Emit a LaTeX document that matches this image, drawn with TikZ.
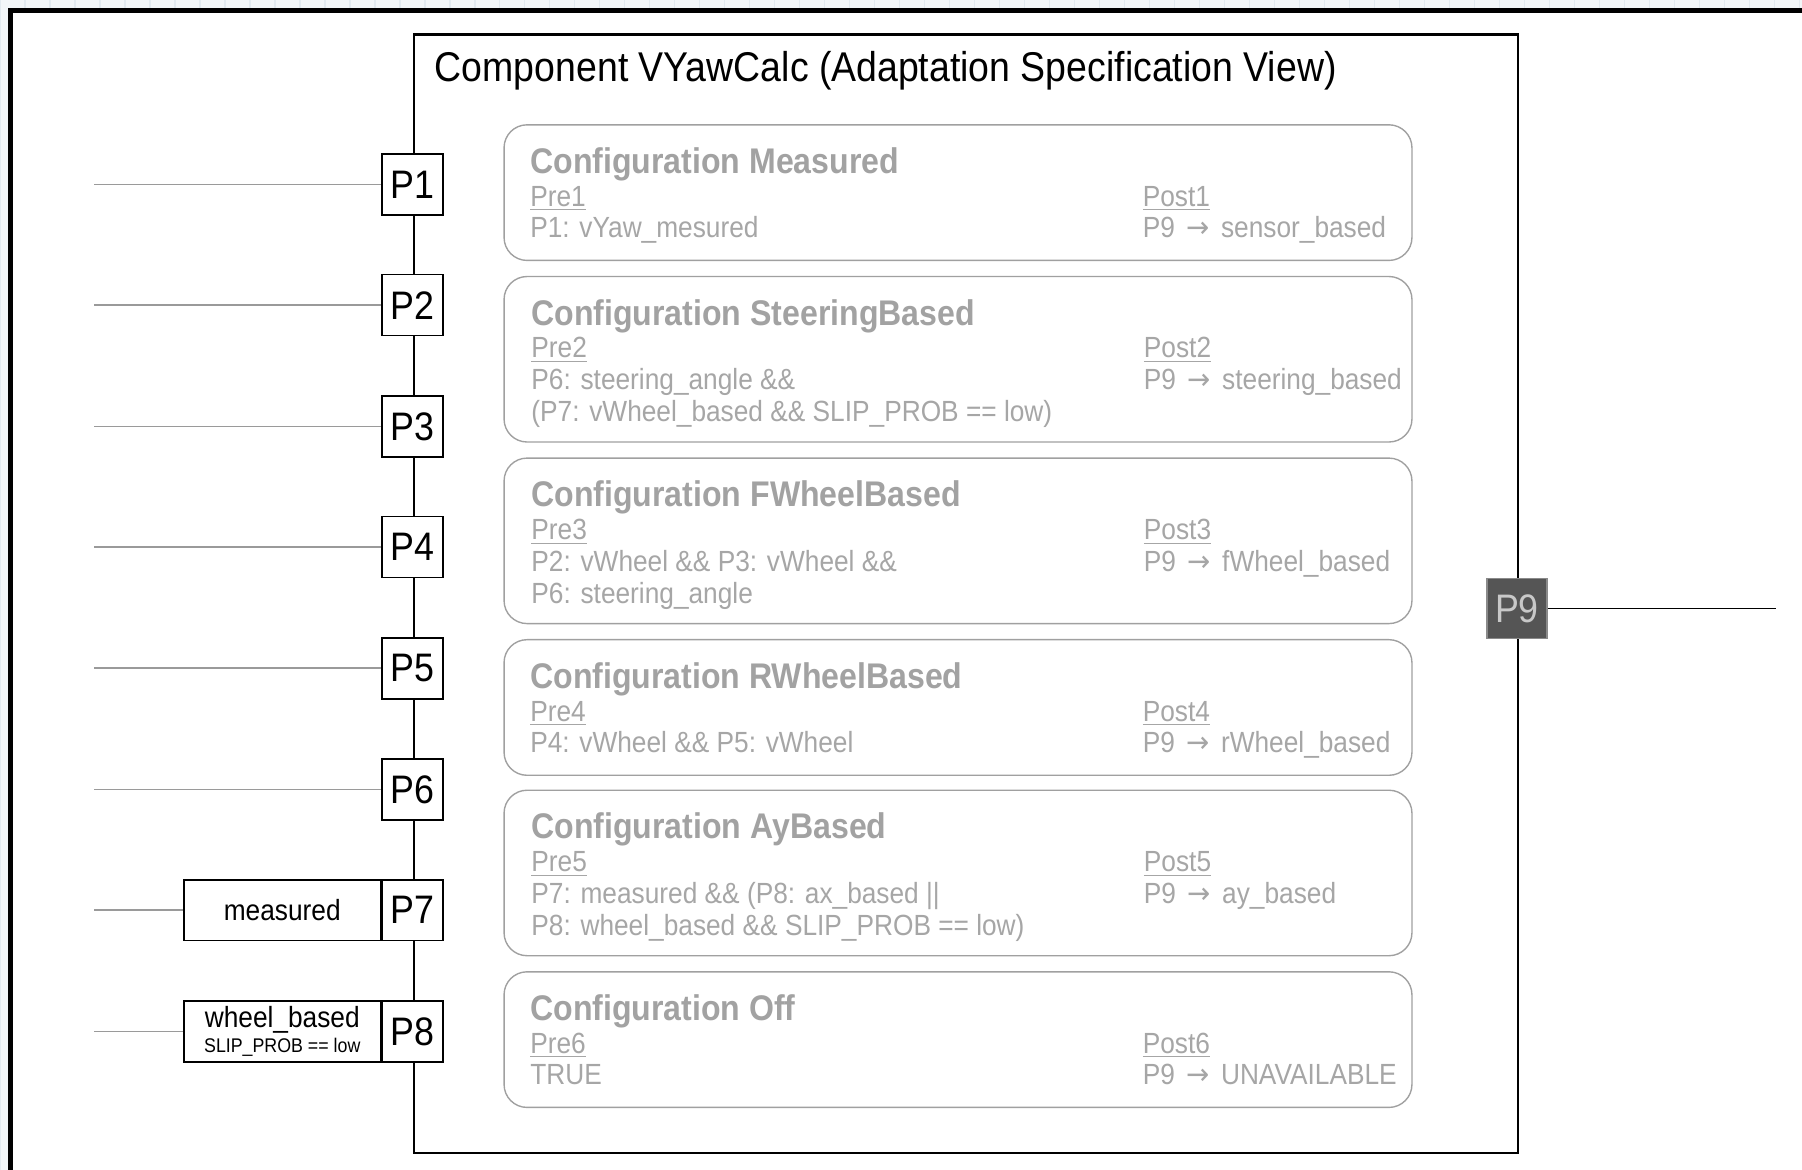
\documentclass[tikz,border=0pt]{standalone}
\usepackage{fontspec}
\setmainfont{Liberation Sans}[FakeStretch=0.9]
\newfontfamily\arrowfont{DejaVu Sans}[FakeStretch=0.95]
\newcommand{\rarr}{{\hspace{1.8pt}\arrowfont →\hspace{1.8pt}}}
\definecolor{bgc}{HTML}{F2F6F8}
\definecolor{gridc}{HTML}{E2EAEF}
\definecolor{boxgray}{HTML}{A0A0A0}
\definecolor{txtgray}{HTML}{A6A6A6}
\definecolor{ttlgray}{HTML}{A2A2A2}
\definecolor{linegray}{HTML}{9A9A9A}
\definecolor{p9fill}{HTML}{555555}
\definecolor{p9text}{HTML}{C8C8C8}
\definecolor{p9border}{HTML}{8A8A8A}
\tikzset{
  cfg/.style={draw=boxgray, line width=0.6pt, rounded corners=10pt, fill=white,
    minimum width=395pt, anchor=north west, inner sep=0pt},
  ttl/.style={anchor=base west, inner sep=0pt, text=ttlgray,
    font=\fontsize{15.5}{18}\selectfont\bfseries},
  txt/.style={anchor=base west, inner sep=0pt, text=txtgray,
    font=\fontsize{12.7}{15}\selectfont},
  port/.style={draw=black, line width=0.7pt, fill=white, minimum width=26.5pt,
    minimum height=26.5pt, inner sep=0pt, font=\fontsize{17.3}{20}\selectfont},
  portlab/.style={draw=black, line width=0.7pt, fill=white, minimum width=85.5pt,
    minimum height=26.5pt, inner sep=0pt, anchor=east, align=center,
    font=\fontsize{12.7}{14}\selectfont},
  feed/.style={draw=linegray, line width=0.7pt},
}
\begin{document}
\begin{tikzpicture}[x=0.5pt,y=-0.5pt]
\useasboundingbox (0,0) rectangle (1568,1018);
% background and outer frame
\fill[bgc] (0,0) rectangle (1568,1018);
\draw[gridc, line width=0.5pt, step=21.75] (0,0) grid (1568,1018);
\fill[white] (9,9) rectangle (1570,1020);
\draw[line width=2.2pt, black] (1570,9) -- (9,9) -- (9,1020);

% component box
\node[draw=black, line width=1pt, minimum width=480.5pt, minimum height=486.5pt,
  anchor=north west, inner sep=0pt] (comp) at (359,29) {};
\node[anchor=base west, inner sep=0pt, font=\fontsize{18.1}{22}\selectfont] (title)
  at (378,71) {Component VYawCalc (Adaptation Specification View)};

% configuration boxes
\node[cfg, minimum height=59pt] (c1) at (438,108) {};
\node[cfg, minimum height=72pt] (c2) at (438,240) {};
\node[cfg, minimum height=72pt] (c3) at (438,398) {};
\node[cfg, minimum height=59pt] (c4) at (438,556) {};
\node[cfg, minimum height=72pt] (c5) at (438,687) {};
\node[cfg, minimum height=59pt] (c6) at (438,845) {};

% box 1
\node[ttl] (c1t) at (461,151) {Configuration Measured};
\node[txt] (c1pre) at (461,179.5) {\underline{Pre1}};
\node[txt] (c1a) at (461,207) {P1: vYaw\_mesured};
\node[txt] (c1post) at (994,179.5) {\underline{Post1}};
\node[txt] (c1p) at (994,207) {P9 \rarr\ sensor\_based};
% box 2
\node[ttl] (c2t) at (462,283) {Configuration SteeringBased};
\node[txt] (c2pre) at (462,311.5) {\underline{Pre2}};
\node[txt] (c2a) at (462,339) {P6: steering\_angle \&\&};
\node[txt] (c2b) at (462,367) {(P7: vWheel\_based \&\& SLIP\_PROB == low)};
\node[txt] (c2post) at (995,311.5) {\underline{Post2}};
\node[txt] (c2p) at (995,339) {P9 \rarr\ steering\_based};
% box 3
\node[ttl] (c3t) at (462,441) {Configuration FWheelBased};
\node[txt] (c3pre) at (462,469.5) {\underline{Pre3}};
\node[txt] (c3a) at (462,497) {P2: vWheel \&\& P3: vWheel \&\&};
\node[txt] (c3b) at (462,525) {P6: steering\_angle};
\node[txt] (c3post) at (995,469.5) {\underline{Post3}};
\node[txt] (c3p) at (995,497) {P9 \rarr\ fWheel\_based};
% box 4
\node[ttl] (c4t) at (461,599) {Configuration RWheelBased};
\node[txt] (c4pre) at (461,627.5) {\underline{Pre4}};
\node[txt] (c4a) at (461,655) {P4: vWheel \&\& P5: vWheel};
\node[txt] (c4post) at (994,627.5) {\underline{Post4}};
\node[txt] (c4p) at (994,655) {P9 \rarr\ rWheel\_based};
% box 5
\node[ttl] (c5t) at (462,730) {Configuration AyBased};
\node[txt] (c5pre) at (462,758.5) {\underline{Pre5}};
\node[txt] (c5a) at (462,786) {P7: measured \&\& (P8: ax\_based ||};
\node[txt] (c5b) at (462,814) {P8: wheel\_based \&\& SLIP\_PROB == low)};
\node[txt] (c5post) at (995,758.5) {\underline{Post5}};
\node[txt] (c5p) at (995,786) {P9 \rarr\ ay\_based};
% box 6
\node[ttl] (c6t) at (461,888) {Configuration Off};
\node[txt] (c6pre) at (461,916.5) {\underline{Pre6}};
\node[txt] (c6a) at (461,944) {TRUE};
\node[txt] (c6post) at (994,916.5) {\underline{Post6}};
\node[txt] (c6p) at (994,944) {P9 \rarr\ UNAVAILABLE};

% ports
\node[port] (p1) at (359,160.5) {P1};
\node[port] (p2) at (359,265.5) {P2};
\node[port] (p3) at (359,371) {P3};
\node[port] (p4) at (359,476) {P4};
\node[port] (p5) at (359,581.5) {P5};
\node[port] (p6) at (359,687) {P6};
\node[port] (p7) at (359,792) {P7};
\node[port] (p8) at (359,897.5) {P8};
\node[portlab] (m7) at (p7.west) {measured};
\node[portlab] (m8) at (p8.west) {wheel\_based\\[-3pt]{\fontsize{8.6}{10}\selectfont SLIP\_PROB == low}};

% feeding lines
\coordinate (l1) at (82,160.5);
\coordinate (l2) at (82,265.5);
\coordinate (l3) at (82,371);
\coordinate (l4) at (82,476);
\coordinate (l5) at (82,581.5);
\coordinate (l6) at (82,687);
\coordinate (l7) at (82,792);
\coordinate (l8) at (82,897.5);
\draw[feed] (l1) -- (p1);
\draw[feed] (l2) -- (p2);
\draw[feed] (l3) -- (p3);
\draw[feed] (l4) -- (p4);
\draw[feed] (l5) -- (p5);
\draw[feed] (l6) -- (p6);
\draw[feed] (l7) -- (m7);
\draw[feed] (l8) -- (m8);

% output port
\node[port, draw=p9border, fill=p9fill, text=p9text, minimum width=26pt, minimum height=26pt] (p9) at (1320,529.5) {P9};
\coordinate (o9) at (1545,529.5);
\draw[black, line width=0.7pt] (p9) -- (o9);
\end{tikzpicture}
\end{document}
